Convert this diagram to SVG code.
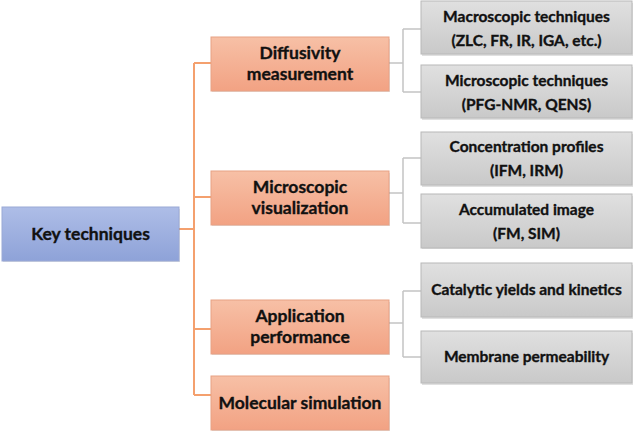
<svg xmlns="http://www.w3.org/2000/svg" width="635" height="432" viewBox="0 0 635 432">
<style>
.t{font-family:Lato,"Open Sans","Liberation Sans",sans-serif;font-weight:bold;fill:#111;stroke:#111;stroke-width:0.35;text-anchor:middle}
.m{font-size:17.5px}
.s{font-size:15.5px}
.key{fill:url(#gb);stroke:#9aa9d6;stroke-width:1}
.org{fill:url(#go);stroke:#e8a184;stroke-width:1}
.gry{fill:url(#gg);stroke:#b8b8b8;stroke-width:1}
.sh{fill:#000;opacity:0.12}
.co{fill:none;stroke:#f4a06e;stroke-width:2}
.cg{fill:none;stroke:#c4c4c4;stroke-width:1.5}
</style>
<defs>
<linearGradient id="gb" x1="0" y1="0" x2="0" y2="1"><stop offset="0" stop-color="#aebde7"/><stop offset="1" stop-color="#8ea2d8"/></linearGradient>
<linearGradient id="go" x1="0" y1="0" x2="0" y2="1"><stop offset="0" stop-color="#f7c0a6"/><stop offset="1" stop-color="#f2a283"/></linearGradient>
<linearGradient id="gg" x1="0" y1="0" x2="0" y2="1"><stop offset="0" stop-color="#e0e0e0"/><stop offset="1" stop-color="#c9c9c9"/></linearGradient>
</defs>
<g id="connectors">
<path class="co" d="M179,229 H194 M194,63 V395 M194,63 H211 M194,197 H211 M194,329 H211 M194,395 H211"/>
<path class="cg" d="M389,63 H403 M403,29 V92 M403,29 H421 M403,92 H421"/>
<path class="cg" d="M389,193 H403 M403,158 V223 M403,158 H421 M403,223 H421"/>
<path class="cg" d="M389,323 H403 M403,291 V357 M403,291 H421 M403,357 H421"/>
</g>
<g id="key">
<rect class="sh" x="3" y="209" width="177" height="53"/>
<rect class="key" x="2" y="207" width="177" height="54"/>
<text class="t m" x="90.5" y="240">Key techniques</text>
</g>
<g id="diffusivity">
<rect class="sh" x="212" y="39" width="178" height="53"/>
<rect class="org" x="211" y="37" width="178" height="54"/>
<text class="t m" x="300" y="59">Diffusivity</text>
<text class="t m" x="300" y="80">measurement</text>
</g>
<g id="visualization">
<rect class="sh" x="212" y="173" width="178" height="53"/>
<rect class="org" x="211" y="171" width="178" height="54"/>
<text class="t m" x="300" y="193">Microscopic</text>
<text class="t m" x="300" y="214">visualization</text>
</g>
<g id="application">
<rect class="sh" x="212" y="302" width="178" height="53"/>
<rect class="org" x="211" y="300" width="178" height="54"/>
<text class="t m" x="300" y="322">Application</text>
<text class="t m" x="300" y="343">performance</text>
</g>
<g id="simulation">
<rect class="sh" x="212" y="378" width="178" height="53"/>
<rect class="org" x="211" y="376" width="178" height="54"/>
<text class="t m" x="300" y="409">Molecular simulation</text>
</g>
<g id="macro">
<rect class="sh" x="422" y="3" width="211" height="53"/>
<rect class="gry" x="421" y="1" width="211" height="53"/>
<text class="t s" x="526.5" y="22">Macroscopic techniques</text>
<text class="t s" x="526.5" y="46">(ZLC, FR, IR, IGA, etc.)</text>
</g>
<g id="micro">
<rect class="sh" x="422" y="67" width="211" height="53"/>
<rect class="gry" x="421" y="65" width="211" height="53"/>
<text class="t s" x="526.5" y="86">Microscopic techniques</text>
<text class="t s" x="526.5" y="110">(PFG-NMR, QENS)</text>
</g>
<g id="concentration">
<rect class="sh" x="422" y="134" width="211" height="53"/>
<rect class="gry" x="421" y="132" width="211" height="53"/>
<text class="t s" x="526.5" y="152">Concentration profiles</text>
<text class="t s" x="526.5" y="176">(IFM, IRM)</text>
</g>
<g id="accumulated">
<rect class="sh" x="422" y="196" width="211" height="53"/>
<rect class="gry" x="421" y="194" width="211" height="54"/>
<text class="t s" x="526.5" y="215">Accumulated image</text>
<text class="t s" x="526.5" y="239">(FM, SIM)</text>
</g>
<g id="catalytic">
<rect class="sh" x="422" y="265" width="211" height="54"/>
<rect class="gry" x="421" y="263" width="211" height="54"/>
<text class="t s" x="526.5" y="295">Catalytic yields and kinetics</text>
</g>
<g id="membrane">
<rect class="sh" x="422" y="333" width="211" height="52"/>
<rect class="gry" x="421" y="331" width="211" height="52"/>
<text class="t s" x="526.5" y="362">Membrane permeability</text>
</g>
</svg>
